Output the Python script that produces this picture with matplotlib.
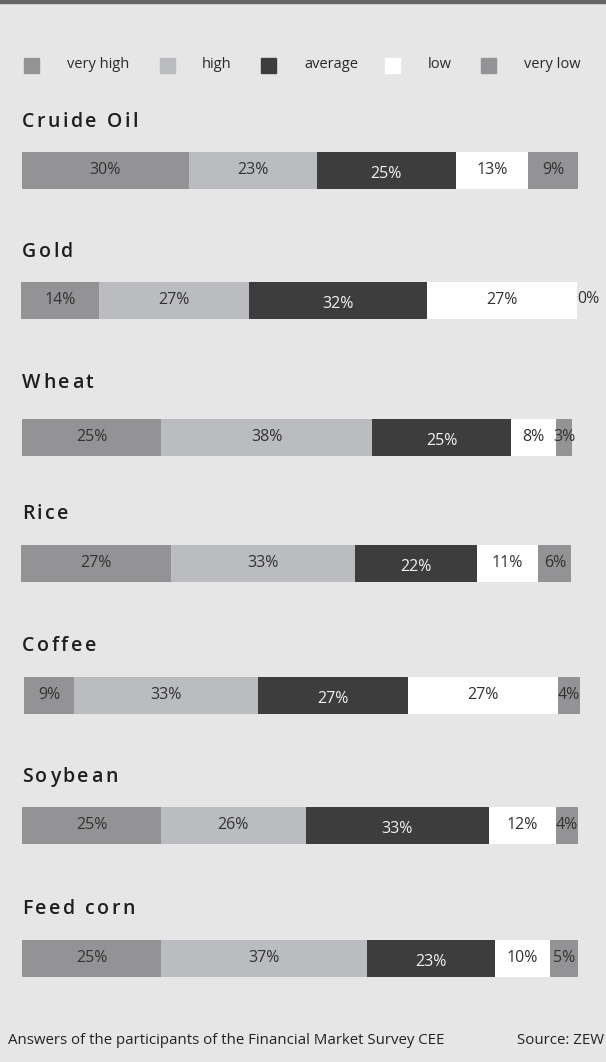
import matplotlib.pyplot as plt
import numpy as np

plt.rcParams['font.family'] = ['Open Sans', 'DejaVu Sans']

commodities = ['Cruide Oil', 'Gold', 'Wheat', 'Rice', 'Coffee', 'Soybean', 'Feed corn']
levels = ['very high', 'high', 'average', 'low', 'very low']
very_high = [30, 14, 25, 27, 9, 25, 25]
high = [23, 27, 38, 33, 33, 26, 37]
average = [25, 32, 25, 22, 27, 33, 23]
low = [13, 27, 8, 11, 27, 12, 10]
very_low = [9, 0, 3, 6, 4, 4, 5]

colors = ['#939396', '#bbbcbf', '#3d3d3d', '#ffffff', '#939396']
bg = '#e6e6e6'

W, H = 606, 1062
fig = plt.figure(figsize=(W / 100, H / 100), dpi=100, facecolor=bg)
renderer = fig.canvas.get_renderer()


def tracked_text(x_px, y_px, s, track, **kw):
    # draw a string with extra letter spacing (in pixels)
    x = x_px
    for ch in s:
        t = fig.text(x / W, 1 - y_px / H, ch, **kw)
        if ch == ' ':
            ref = fig.text(0, 0, 'n n', **kw)
            ref2 = fig.text(0, 0, 'nn', **kw)
            w = ref.get_window_extent(renderer).width - ref2.get_window_extent(renderer).width
            ref.remove()
            ref2.remove()
        else:
            w = t.get_window_extent(renderer).width
        x += w + track


# dark rule at the very top
fig.patches.append(plt.Rectangle((0, 1 - 3 / H), 1, 3 / H, transform=fig.transFigure,
                                 color='#666666', zorder=5))

# legend row
sq_x = [24, 160, 261, 385, 481]
lab_x = [67, 202, 304, 428, 524]
for i, name in enumerate(levels):
    fig.patches.append(plt.Rectangle((sq_x[i] / W, 1 - 73 / H), 15 / W, 15 / H,
                                     transform=fig.transFigure, color=colors[i]))
    fig.text(lab_x[i] / W, 1 - 65 / H, name, fontsize=10.5, color='#2a2a2a',
             va='center', ha='left')

series = np.array([very_high, high, average, low, very_low])
bar_top = [152, 282, 419, 545, 677, 807, 940]
title_base = [127, 257, 388, 519, 651, 782, 914]
bar_left = [22, 21, 22, 21, 24, 22, 22]
bar_h = 37
px_per_pct = 5.56

for j, name in enumerate(commodities):
    ax = fig.add_axes([bar_left[j] / W, 1 - (bar_top[j] + bar_h) / H,
                       100 * px_per_pct / W, bar_h / H])
    ax.set_xlim(0, 100)
    ax.set_ylim(-0.5, 0.5)
    ax.axis('off')
    left = 0
    for i in range(len(levels)):
        v = series[i][j]
        if v == 0:
            ax.barh(0, 0.2, left=left, height=1, color='#aaaaaa')
            ax.text(left, 0.03, f'{v}%', ha='left', va='center', fontsize=11.5, color='#333333')
        else:
            ax.barh(0, v, left=left, height=1, color=colors[i])
            tc = '#f2f2f2' if i == 2 else '#333333'
            dy = -0.1 if i == 2 else 0.02
            ax.text(left + v / 2, dy, f'{v}%', ha='center', va='center', fontsize=11.5, color=tc)
        left += v
    tracked_text(22, title_base[j], name, 2.5, fontsize=14, fontweight='semibold',
                 color='#1e1e1e', va='baseline', ha='left')

fig.text(8 / W, 1 - 1040 / H, 'Answers of the participants of the Financial Market Survey CEE',
         fontsize=10.8, color='#222222', va='center', ha='left')
fig.text(604 / W, 1 - 1040 / H, 'Source: ZEW', fontsize=10.8, color='#222222',
         va='center', ha='right')

fig.savefig('out.png', dpi=100, facecolor=bg)
